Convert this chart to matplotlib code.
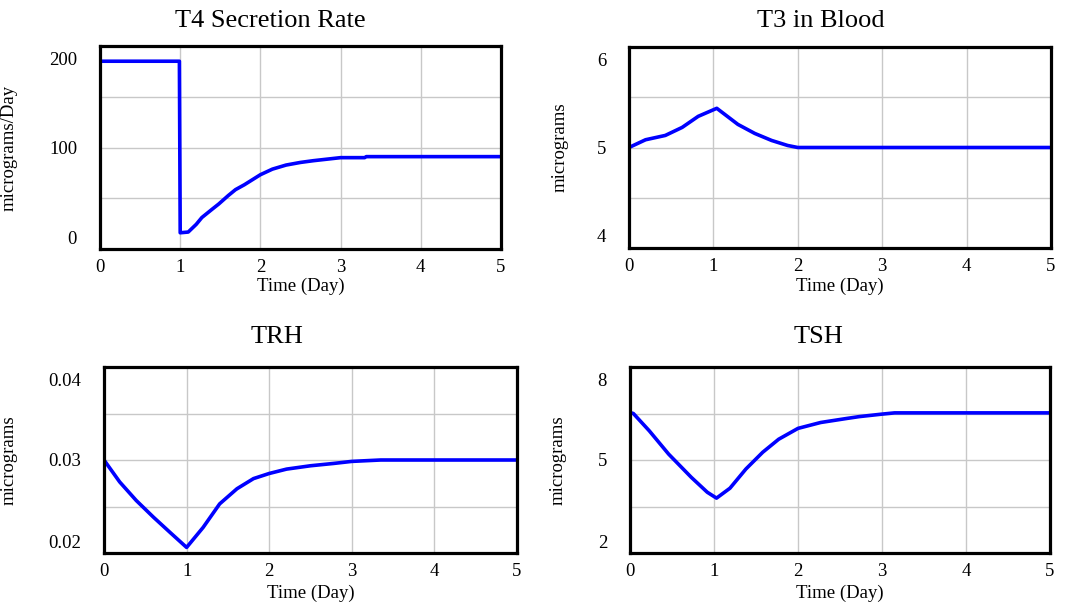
import matplotlib
matplotlib.use("Agg")
import matplotlib.pyplot as plt
import matplotlib.transforms as mtransforms

plt.rcParams['font.family'] = ['Liberation Serif', 'DejaVu Serif']

# --- data ---
t4_t = [0, 0.99, 1.0, 1.1, 1.2, 1.27, 1.4, 1.48, 1.6, 1.69, 1.8, 2.0, 2.15, 2.32, 2.5,
        2.66, 3.0, 3.3, 3.32, 5.0]
t4_v = [185, 185, 16, 16.7, 24.3, 31, 39.3, 44.3, 52.7, 58.5, 63.3, 73.2, 78.7, 82.7, 85.3,
        87, 90, 90, 91, 91]

t3_t = [0, 0.196, 0.43, 0.63, 0.82, 1.04, 1.29, 1.49, 1.69, 1.88, 2.0, 5.0]
t3_v = [5.0, 5.077, 5.12, 5.20, 5.31, 5.39, 5.23, 5.14, 5.07, 5.02, 5.0, 5.0]

trh_t = [0, 0.19, 0.39, 0.6, 0.8, 1.0, 1.2, 1.4, 1.61, 1.81, 2.0, 2.21, 2.5, 2.78, 3.0,
         3.35, 5.0]
trh_v = [0.0300, 0.02764, 0.02565, 0.02384, 0.02221, 0.0206, 0.02275, 0.02528, 0.02691,
         0.0280, 0.02855, 0.02902, 0.02938, 0.02963, 0.02985, 0.0300, 0.0300]

tsh_t = [0, 0.04, 0.23, 0.46, 0.73, 0.92, 1.03, 1.19, 1.38, 1.58, 1.77, 2.0, 2.27, 2.58,
         2.73, 3.0, 3.15, 5.0]
tsh_v = [6.53, 6.5, 5.94, 5.19, 4.44, 3.96, 3.77, 4.09, 4.71, 5.25, 5.67, 6.02, 6.21, 6.34,
         6.40, 6.48, 6.52, 6.52]

x_ticks = [0, 1, 2, 3, 4, 5]

panels = [
    # title, ylabel, t, v, ylim, tick labels,
    # axes box in px (left, top, right, bottom), title centre x, title baseline y, ylabel x, xlabel top y
    ("T4 Secretion Rate", "micrograms/Day", t4_t, t4_v, (0, 200), ["0", "100", "200"],
     (100, 46, 501, 249), 270, 26.7, 18, 278),
    ("T3 in Blood", "micrograms", t3_t, t3_v, (4, 6), ["4", "5", "6"],
     (629, 47, 1051, 248), 821, 26.7, 569, 278),
    ("TRH", "micrograms", trh_t, trh_v, (0.02, 0.04), ["0.02", "0.03", "0.04"],
     (104, 367, 517, 553), 277, 343.3, 18, 585),
    ("TSH", "micrograms", tsh_t, tsh_v, (2, 8), ["2", "5", "8"],
     (630, 367, 1050, 553), 819, 343.3, 567, 585),
]

W, H = 1071, 607
fig = plt.figure(figsize=(W / 100, H / 100), dpi=100)

for title, ylab, t, v, ylim, ylabels, box, tx, ty, ylx, xly in panels:
    l, tp, r, b = box
    ax = fig.add_axes([l / W, 1 - b / H, (r - l) / W, (b - tp) / H])
    ax.plot(t, v, color="#0000ff", lw=2.6, solid_joinstyle="round")
    lo, hi = ylim
    ax.set_xlim(0, 5)
    ax.set_ylim(lo, hi)
    ax.set_xticks(x_ticks)
    ax.set_yticks([lo, (lo + hi) / 2, hi])
    ax.set_yticklabels(ylabels)
    ax.set_yticks([lo + (hi - lo) / 4, lo + 3 * (hi - lo) / 4], minor=True)
    ax.grid(True, which="both", color="#c8c8c8", lw=1.0)
    ax.set_axisbelow(True)
    ax.tick_params(which="both", length=0, labelsize=13.5)
    ax.tick_params(axis="y", pad=16.5)
    ax.tick_params(axis="x", pad=7)
    for s in ax.spines.values():
        s.set_linewidth(2.3)
        s.set_color("black")
    # vensim style: top/bottom y labels pulled inside the box
    labs = ax.get_yticklabels()
    labs[0].set_transform(labs[0].get_transform() +
                          mtransforms.ScaledTranslation(0, 0.12, fig.dpi_scale_trans))
    labs[2].set_transform(labs[2].get_transform() +
                          mtransforms.ScaledTranslation(0, -0.125, fig.dpi_scale_trans))
    ax.set_xlabel("Time (Day)", fontsize=13.5)
    ax.xaxis.set_label_coords(0.5, -(xly - b) / (b - tp))
    ax.set_ylabel(ylab, fontsize=13.5)
    ax.yaxis.set_label_coords((ylx - l) / (r - l), 0.5)
    fig.text(tx / W, 1 - ty / H, title, fontsize=19, ha="center", va="baseline")

fig.savefig("out.png", dpi=100)
